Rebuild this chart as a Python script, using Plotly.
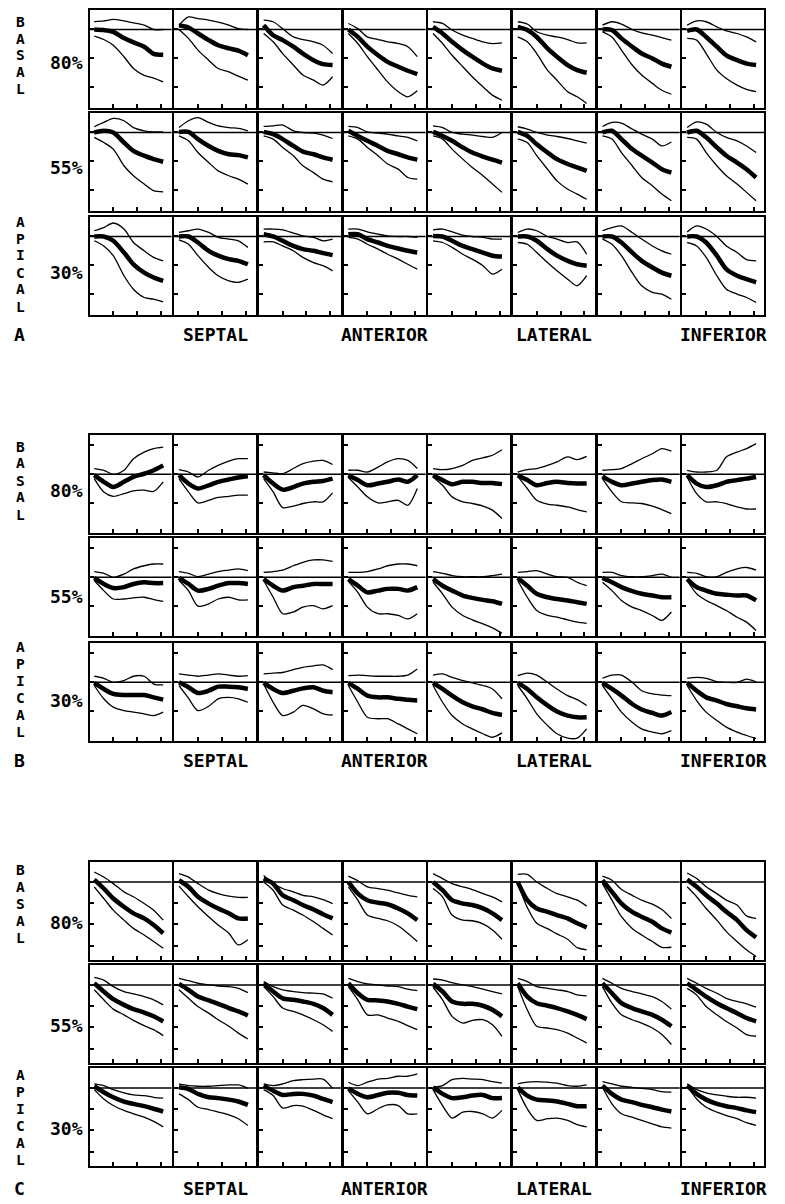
import plotly.graph_objects as go

# ---------------- data ----------------
TIME = [0.2, 0.6, 1.0, 1.45, 1.85, 2.3, 2.7, 3.1]
PANELS = ["A", "B", "C"]
LEVELS = ["80%", "55%", "30%"]
REGIONS = ["SEPTAL", "ANTERIOR", "LATERAL", "INFERIOR"]
BASE_WORD = "BASAL"
APEX_WORD = "APICAL"

A_UPPER = [
    [[0.27,0.30,0.35,0.30,0.23,0.15,0.0,0.0],[0.15,0.44,0.38,0.33,0.26,0.15,0.03,0.0],
     [0.33,0.27,0.03,-0.26,-0.35,-0.43,-0.55,-0.84],[0.21,0.03,-0.26,-0.35,-0.43,-0.49,-0.6,-0.95],
     [0.27,0.21,-0.02,-0.2,-0.31,-0.43,-0.49,-0.47],[0.27,0.19,-0.08,-0.2,-0.26,-0.35,-0.47,-0.47],
     [0.15,0.27,0.19,0.0,-0.12,-0.2,-0.28,-0.37],[0.15,0.3,0.27,0.09,-0.05,-0.14,-0.26,-0.43]],
    [[0.2,0.35,0.49,0.41,0.17,0.06,0.02,0.02],[0.17,0.41,0.52,0.35,0.23,0.17,0.14,0.06],
     [0.21,0.23,0.26,0.06,0.0,-0.02,-0.09,-0.21],[0.21,0.17,0.02,-0.02,-0.06,-0.12,-0.17,-0.29],
     [0.23,0.17,0.0,-0.06,-0.09,-0.14,-0.17,0.0],[0.2,0.12,0.0,-0.09,-0.14,-0.21,-0.29,-0.37],
     [0.21,0.35,0.33,0.12,-0.06,-0.23,-0.47,-0.33],[0.17,0.37,0.29,0.0,-0.17,-0.29,-0.47,-0.7]],
    [[0.2,0.31,0.47,0.26,-0.21,-0.5,-0.73,-0.85],[0.14,0.2,0.26,0.14,-0.03,-0.09,-0.15,-0.38],
     [0.26,0.26,0.23,0.12,0.02,-0.03,-0.15,-0.09],[0.26,0.26,0.16,0.08,0.02,0.0,0.0,-0.03],
     [0.23,0.26,0.16,0.05,0.0,-0.03,-0.09,-0.09],[0.14,0.26,0.2,0.0,-0.09,-0.21,-0.19,-0.62],
     [0.2,0.31,0.37,0.14,-0.09,-0.33,-0.5,-0.62],[0.16,0.37,0.26,0.0,-0.33,-0.56,-0.81,-0.85]],
]
A_MEAN = [
    [[0.0,-0.02,-0.08,-0.3,-0.45,-0.6,-0.85,-0.88],[0.15,0.07,-0.14,-0.37,-0.55,-0.66,-0.74,-0.9],
     [0.15,-0.2,-0.37,-0.6,-0.84,-1.07,-1.21,-1.24],[0.0,-0.26,-0.6,-0.9,-1.13,-1.3,-1.44,-1.56],
     [0.09,-0.14,-0.43,-0.72,-0.95,-1.19,-1.36,-1.44],[0.09,-0.02,-0.26,-0.66,-0.95,-1.24,-1.42,-1.51],
     [0.0,-0.02,-0.31,-0.6,-0.84,-1.01,-1.19,-1.3],[-0.05,0.0,-0.26,-0.6,-0.9,-1.07,-1.19,-1.24]],
    [[0.0,0.06,0.0,-0.35,-0.64,-0.81,-0.93,-1.02],[0.02,0.02,-0.23,-0.47,-0.64,-0.76,-0.79,-0.87],
     [0.02,-0.06,-0.23,-0.47,-0.67,-0.76,-0.87,-0.95],[0.06,-0.12,-0.29,-0.47,-0.64,-0.76,-0.87,-0.95],
     [0.02,-0.12,-0.29,-0.52,-0.7,-0.84,-0.95,-1.05],[0.02,-0.12,-0.41,-0.7,-0.93,-1.1,-1.22,-1.34],
     [0.0,0.06,-0.23,-0.58,-0.81,-1.05,-1.28,-1.4],[0.0,0.06,-0.17,-0.52,-0.81,-1.05,-1.28,-1.57]],
    [[0.0,0.0,-0.15,-0.56,-0.97,-1.26,-1.43,-1.55],[0.0,0.0,-0.21,-0.5,-0.67,-0.79,-0.85,-0.97],
     [0.08,0.0,-0.15,-0.33,-0.44,-0.5,-0.58,-0.65],[0.08,0.08,-0.09,-0.21,-0.33,-0.42,-0.5,-0.56],
     [0.02,0.0,-0.15,-0.33,-0.44,-0.56,-0.67,-0.7],[0.0,0.0,-0.15,-0.44,-0.67,-0.85,-0.97,-1.02],
     [0.0,0.0,-0.21,-0.56,-0.85,-1.08,-1.26,-1.37],[0.0,0.0,-0.21,-0.67,-1.14,-1.37,-1.49,-1.6]],
]
A_LOWER = [
    [[-0.23,-0.35,-0.55,-0.95,-1.36,-1.6,-1.7,-1.83],[0.0,-0.31,-0.72,-1.07,-1.36,-1.48,-1.63,-1.77],
     [-0.14,-0.43,-0.84,-1.24,-1.59,-1.77,-1.94,-1.65],[-0.14,-0.49,-0.95,-1.42,-1.83,-2.17,-2.35,-2.14],
     [-0.14,-0.49,-0.9,-1.3,-1.65,-2.0,-2.29,-2.47],[-0.26,-0.43,-0.84,-1.42,-1.77,-2.17,-2.35,-2.58],
     [-0.08,-0.26,-0.72,-1.24,-1.59,-1.88,-2.12,-2.26],[-0.31,-0.37,-0.84,-1.42,-1.71,-1.94,-2.09,-2.17]],
    [[-0.17,-0.35,-0.58,-1.16,-1.51,-1.8,-2.03,-2.07],[-0.12,-0.29,-0.7,-1.05,-1.34,-1.51,-1.63,-1.8],
     [-0.12,-0.23,-0.52,-0.81,-1.16,-1.4,-1.63,-1.72],[-0.12,-0.23,-0.52,-0.81,-1.1,-1.28,-1.57,-1.63],
     [-0.12,-0.23,-0.58,-0.93,-1.22,-1.51,-1.8,-2.09],[-0.23,-0.35,-0.81,-1.28,-1.69,-1.98,-2.15,-2.33],
     [-0.12,-0.23,-0.7,-1.16,-1.57,-1.86,-2.15,-2.38],[-0.17,-0.23,-0.7,-1.16,-1.51,-1.8,-2.09,-2.38]],
    [[-0.15,-0.33,-0.67,-1.37,-1.84,-2.13,-2.19,-2.28],[-0.12,-0.27,-0.67,-1.08,-1.37,-1.55,-1.6,-1.49],
     [-0.19,-0.19,-0.33,-0.5,-0.73,-0.91,-1.02,-1.2],[-0.03,-0.09,-0.27,-0.44,-0.62,-0.79,-0.97,-1.14],
     [-0.15,-0.21,-0.38,-0.62,-0.79,-1.02,-1.31,-1.14],[-0.21,-0.27,-0.56,-0.91,-1.2,-1.49,-1.72,-1.37],
     [-0.09,-0.27,-0.67,-1.26,-1.72,-1.95,-2.01,-2.19],[-0.21,-0.33,-0.73,-1.37,-1.84,-2.01,-2.13,-2.3]],
]

B_UPPER = [
    [[0.2,0.14,0.0,0.14,0.54,0.77,0.89,0.94],[0.16,0.08,-0.09,0.14,0.31,0.46,0.54,0.54],
     [0.08,0.05,0.02,0.2,0.37,0.46,0.48,0.34],[0.14,0.14,0.08,0.25,0.43,0.54,0.48,0.2],
     [0.2,0.16,0.2,0.31,0.48,0.57,0.66,0.85],[0.08,0.16,0.2,0.31,0.43,0.6,0.51,0.62],
     [0.14,0.16,0.2,0.37,0.54,0.71,0.89,0.8],[0.14,0.08,0.08,0.14,0.6,0.77,0.89,1.06]],
    [[0.2,0.14,0.0,0.11,0.29,0.4,0.46,0.46],[0.2,0.14,0.02,0.11,0.2,0.25,0.29,0.23],
     [0.17,0.2,0.25,0.4,0.52,0.6,0.6,0.55],[0.17,0.17,0.2,0.29,0.4,0.46,0.46,0.4],
     [0.2,0.14,0.06,0.02,0.02,0.02,0.06,0.11],[0.17,0.2,0.23,0.11,0.02,0.0,-0.17,-0.29],
     [0.17,0.17,0.06,0.02,0.02,0.06,0.11,0.0],[0.17,0.14,0.02,0.02,0.17,0.29,0.34,0.25]],
    [[0.21,0.14,0.0,0.06,0.21,0.21,-0.06,-0.09],[0.29,0.25,0.21,0.25,0.29,0.25,0.21,0.23],
     [0.29,0.32,0.34,0.44,0.52,0.57,0.6,0.44],[0.23,0.25,0.23,0.21,0.21,0.21,0.25,0.46],
     [0.25,0.29,0.17,0.06,-0.02,-0.11,-0.23,-0.57],[0.23,0.32,0.25,0.0,-0.23,-0.46,-0.6,-0.8],
     [0.14,0.25,0.25,0.0,-0.29,-0.4,-0.44,-0.46],[0.14,0.17,0.14,0.02,0.0,0.0,0.11,0.02]],
]
B_MEAN = [
    [[-0.03,-0.26,-0.44,-0.26,-0.09,0.02,0.14,0.31],[-0.03,-0.32,-0.49,-0.38,-0.26,-0.18,-0.11,-0.07],
     [-0.03,-0.32,-0.53,-0.44,-0.32,-0.26,-0.23,-0.15],[-0.03,-0.2,-0.38,-0.32,-0.26,-0.18,-0.26,-0.03],
     [-0.03,-0.2,-0.34,-0.26,-0.26,-0.3,-0.3,-0.34],[-0.03,-0.2,-0.38,-0.3,-0.26,-0.3,-0.32,-0.32],
     [-0.07,-0.26,-0.38,-0.32,-0.26,-0.2,-0.18,-0.26],[-0.03,-0.32,-0.44,-0.38,-0.26,-0.2,-0.15,-0.09]],
    [[-0.02,-0.23,-0.37,-0.34,-0.23,-0.17,-0.2,-0.2],[-0.02,-0.23,-0.46,-0.4,-0.29,-0.2,-0.2,-0.23],
     [-0.06,-0.29,-0.46,-0.34,-0.29,-0.23,-0.23,-0.23],[-0.06,-0.29,-0.52,-0.46,-0.4,-0.4,-0.46,-0.34],
     [-0.06,-0.29,-0.46,-0.63,-0.71,-0.78,-0.83,-0.92],[-0.02,-0.29,-0.57,-0.69,-0.75,-0.8,-0.86,-0.92],
     [-0.02,-0.17,-0.34,-0.48,-0.57,-0.63,-0.69,-0.69],[-0.06,-0.34,-0.46,-0.57,-0.6,-0.63,-0.63,-0.8]],
    [[-0.02,-0.23,-0.4,-0.44,-0.44,-0.44,-0.52,-0.6],[0.0,-0.17,-0.37,-0.29,-0.15,-0.15,-0.17,-0.23],
     [-0.02,-0.23,-0.37,-0.29,-0.21,-0.17,-0.29,-0.34],[-0.02,-0.23,-0.46,-0.52,-0.52,-0.57,-0.6,-0.63],
     [-0.02,-0.23,-0.46,-0.69,-0.83,-0.94,-1.06,-1.13],[-0.02,-0.23,-0.52,-0.8,-1.01,-1.15,-1.21,-1.21],
     [-0.02,-0.23,-0.46,-0.75,-0.94,-1.06,-1.15,-1.03],[-0.02,-0.29,-0.52,-0.63,-0.75,-0.83,-0.9,-0.94]],
]
B_LOWER = [
    [[-0.15,-0.61,-0.76,-0.67,-0.57,-0.55,-0.59,-0.26],[-0.15,-0.61,-0.99,-0.9,-0.8,-0.76,-0.72,-0.72],
     [-0.15,-0.61,-1.15,-1.1,-1.01,-0.95,-0.95,-0.64],[-0.11,-0.44,-0.78,-0.99,-0.95,-0.9,-1.07,-0.49],
     [-0.09,-0.38,-0.78,-0.95,-1.01,-1.1,-1.24,-1.53],[-0.07,-0.49,-0.9,-1.03,-1.07,-1.13,-1.22,-1.3],
     [-0.15,-0.61,-0.95,-0.99,-1.01,-1.1,-1.22,-1.36],[-0.09,-0.67,-0.95,-0.95,-1.01,-1.13,-1.2,-1.2]],
    [[-0.11,-0.46,-0.75,-0.75,-0.71,-0.69,-0.77,-0.83],[-0.11,-0.46,-1.0,-0.92,-0.75,-0.69,-0.78,-0.78],
     [-0.11,-0.69,-1.26,-1.2,-1.03,-0.98,-1.09,-0.98],[-0.14,-0.52,-1.03,-1.26,-1.26,-1.32,-1.44,-1.26],
     [-0.17,-0.57,-1.03,-1.32,-1.47,-1.61,-1.75,-1.93],[-0.11,-0.69,-1.15,-1.32,-1.38,-1.47,-1.55,-1.59],
     [-0.17,-0.46,-0.8,-1.03,-1.15,-1.32,-1.49,-1.2],[-0.11,-0.57,-0.8,-0.98,-1.15,-1.38,-1.55,-1.84]],
    [[-0.11,-0.57,-0.86,-0.98,-1.03,-1.09,-1.15,-1.03],[-0.11,-0.55,-0.98,-0.83,-0.57,-0.52,-0.57,-0.69],
     [-0.06,-0.69,-1.15,-1.03,-0.8,-0.92,-1.09,-1.13],[-0.11,-0.69,-1.21,-1.26,-1.26,-1.44,-1.61,-1.78],
     [-0.11,-0.69,-1.15,-1.44,-1.61,-1.78,-1.9,-1.75],[-0.11,-0.57,-1.09,-1.49,-1.78,-1.93,-1.93,-1.61],
     [-0.11,-0.57,-1.03,-1.38,-1.61,-1.72,-1.78,-1.67],[-0.11,-0.63,-1.03,-1.32,-1.55,-1.72,-1.84,-1.95]],
]

C_UPPER = [
    [[0.47,0.23,-0.08,-0.47,-0.7,-1.02,-1.33,-1.8],[0.39,0.23,-0.08,-0.39,-0.55,-0.67,-0.73,-0.73],
     [0.31,-0.08,-0.31,-0.47,-0.63,-0.7,-0.83,-1.02],[0.27,0.05,-0.23,-0.31,-0.39,-0.52,-0.63,-0.7],
     [0.39,0.16,-0.08,-0.23,-0.36,-0.55,-0.7,-0.94],[0.36,0.36,0.0,-0.31,-0.55,-0.7,-0.86,-1.14],
     [0.27,0.08,-0.36,-0.63,-0.86,-1.05,-1.3,-1.72],[0.42,0.16,-0.23,-0.55,-0.86,-1.09,-1.6,-1.72]],
    [[0.36,0.23,-0.08,-0.31,-0.42,-0.55,-0.7,-0.94],[0.31,0.2,0.08,0.0,-0.05,-0.08,-0.16,-0.36],
     [0.16,-0.08,-0.23,-0.31,-0.36,-0.39,-0.42,-0.63],[0.31,0.16,0.05,0.0,-0.05,-0.08,-0.2,-0.27],
     [0.28,0.23,0.11,0.0,-0.08,-0.2,-0.31,-0.42],[0.31,0.16,-0.08,-0.16,-0.23,-0.31,-0.47,-0.52],
     [0.31,0.08,-0.16,-0.31,-0.42,-0.55,-0.78,-1.14],[0.31,0.08,-0.16,-0.39,-0.63,-0.78,-0.89,-1.05]],
    [[0.19,0.11,-0.08,-0.23,-0.33,-0.36,-0.44,-0.48],[0.19,0.11,0.08,0.08,0.11,0.14,0.14,-0.02],
     [0.19,0.11,0.19,0.34,0.39,0.42,0.42,-0.02],[0.27,0.11,0.27,0.42,0.45,0.55,0.55,0.66],
     [0.03,0.11,0.39,0.45,0.42,0.39,0.3,0.23],[0.19,0.27,0.3,0.27,0.23,0.11,0.08,0.14],
     [0.3,0.19,0.08,0.03,-0.02,-0.08,-0.17,-0.2],[0.19,-0.08,-0.23,-0.33,-0.39,-0.44,-0.44,-0.48]],
]
C_MEAN = [
    [[0.11,-0.31,-0.78,-1.17,-1.48,-1.72,-2.03,-2.42],[0.08,-0.23,-0.7,-1.02,-1.25,-1.48,-1.72,-1.72],
     [0.16,-0.08,-0.63,-0.86,-1.09,-1.3,-1.52,-1.72],[0.0,-0.55,-0.86,-0.98,-1.05,-1.25,-1.48,-1.8],
     [0.0,-0.39,-0.86,-1.02,-1.09,-1.25,-1.48,-1.8],[0.0,-0.86,-1.25,-1.41,-1.56,-1.72,-1.95,-2.14],
     [0.08,-0.47,-1.02,-1.41,-1.64,-1.88,-2.19,-2.39],[0.11,-0.23,-0.63,-1.02,-1.41,-1.8,-2.27,-2.61]],
    [[0.08,-0.31,-0.67,-0.94,-1.14,-1.3,-1.48,-1.72],[0.05,-0.23,-0.55,-0.73,-0.89,-1.09,-1.25,-1.44],
     [0.08,-0.31,-0.63,-0.7,-0.78,-0.89,-1.09,-1.41],[0.08,-0.39,-0.7,-0.73,-0.78,-0.89,-1.02,-1.14],
     [0.05,-0.31,-0.78,-0.89,-0.89,-0.98,-1.17,-1.48],[0.08,-0.55,-0.86,-0.98,-1.09,-1.25,-1.41,-1.61],
     [0.08,-0.39,-0.86,-1.09,-1.25,-1.41,-1.64,-1.95],[0.08,-0.23,-0.55,-0.86,-1.09,-1.33,-1.56,-1.72]],
    [[0.08,-0.2,-0.44,-0.64,-0.75,-0.86,-0.98,-1.11],[0.03,-0.05,-0.28,-0.44,-0.48,-0.55,-0.64,-0.8],
     [0.11,-0.13,-0.33,-0.28,-0.28,-0.36,-0.52,-0.67],[-0.02,-0.28,-0.44,-0.33,-0.23,-0.23,-0.33,-0.36],
     [0.03,-0.28,-0.48,-0.44,-0.36,-0.33,-0.48,-0.48],[0.03,-0.36,-0.55,-0.59,-0.64,-0.75,-0.86,-0.86],
     [0.11,-0.28,-0.55,-0.67,-0.8,-0.91,-1.02,-1.11],[0.11,-0.28,-0.55,-0.75,-0.86,-0.95,-1.06,-1.14]],
]
C_LOWER = [
    [[-0.23,-0.78,-1.33,-1.8,-2.19,-2.5,-2.81,-3.13],[-0.2,-0.7,-1.17,-1.64,-2.03,-2.42,-2.97,-2.73],
     [0.0,-0.39,-1.09,-1.33,-1.56,-1.88,-2.19,-2.5],[-0.23,-0.86,-1.56,-1.72,-1.83,-2.08,-2.42,-2.81],
     [-0.31,-0.7,-1.56,-1.8,-1.83,-1.98,-2.27,-2.7],[-0.08,-1.2,-1.95,-2.2,-2.45,-2.7,-3.1,-3.2],
     [-0.08,-0.86,-1.64,-2.19,-2.5,-2.81,-3.08,-3.08],[-0.23,-0.7,-1.25,-1.8,-2.34,-2.81,-3.2,-3.52]],
    [[-0.23,-0.7,-1.14,-1.41,-1.67,-1.92,-2.11,-2.39],[-0.23,-0.63,-1.02,-1.33,-1.64,-1.95,-2.27,-2.55],
     [-0.08,-0.55,-1.09,-1.25,-1.41,-1.64,-1.88,-2.19],[-0.08,-0.7,-1.41,-1.41,-1.56,-1.72,-1.92,-2.11],
     [-0.11,-0.7,-1.48,-1.8,-1.67,-1.64,-1.88,-2.42],[-0.08,-1.17,-1.95,-2.03,-2.11,-2.27,-2.5,-2.73],
     [-0.08,-0.86,-1.41,-1.64,-1.8,-2.03,-2.34,-2.81],[-0.16,-0.47,-1.02,-1.41,-1.72,-2.03,-2.34,-2.42]],
    [[-0.08,-0.52,-0.83,-1.06,-1.22,-1.38,-1.58,-1.84],[-0.28,-0.55,-0.91,-1.02,-1.14,-1.27,-1.45,-1.77],
     [-0.08,-0.36,-0.95,-0.83,-0.86,-1.06,-1.27,-1.45],[-0.13,-0.67,-1.22,-0.98,-0.8,-0.83,-1.22,-1.22],
     [-0.08,-0.83,-1.42,-1.14,-1.11,-1.22,-1.42,-1.06],[-0.08,-0.98,-1.53,-1.45,-1.42,-1.53,-1.73,-1.84],
     [0.03,-0.75,-1.22,-1.38,-1.53,-1.69,-1.84,-1.89],[0.08,-0.52,-0.91,-1.14,-1.3,-1.45,-1.64,-1.77]],
]

# ---------------- layout geometry ----------------
W, H = 785, 1204
COL_LEFT0, COL_PITCH, CELL_W, CELL_H = 89.5, 84.7, 82.0, 98.0
ROW_TOPS = {"A": [10, 113, 217], "B": [435, 538, 643], "C": [862, 965, 1068]}
Y_RANGE = {"A": [-2.74, 0.68], "B": [-2.03, 1.36], "C": [-3.68, 0.94]}
Y_TICKS = {"A": [-2, -1, 0], "B": [-2, -1, 0, 1], "C": [-3, -2, -1, 0]}
X_RANGE = [0, 3.45]
X_TICKS = [1, 2, 3]
SERIES = {"A": (A_UPPER, A_MEAN, A_LOWER), "B": (B_UPPER, B_MEAN, B_LOWER),
          "C": (C_UPPER, C_MEAN, C_LOWER)}
LEVEL_Y = {"A": [63, 167, 273], "B": [490, 596, 700], "C": [922, 1025, 1128]}
BASE_FIRST = {"A": 21.5, "B": 446.5, "C": 869.5}
APEX_FIRST = {"A": 221.5, "B": 647, "C": 1075}
LETTER_PITCH = 17.0
FOOT_Y = {"A": 334, "B": 760, "C": 1188}

FONT = dict(family="DejaVu Sans Mono", size=18, color="black", weight="bold")
VFONT = dict(family="DejaVu Sans Mono", size=14.5, color="black", weight="bold")

fig = go.Figure()
layout = dict(width=W, height=H, margin=dict(l=0, r=0, t=0, b=0),
              paper_bgcolor="white", plot_bgcolor="white", showlegend=False)
shapes, annotations = [], []


def px_x(x):
    return x / W


def px_y(y):
    return 1 - y / H


def label(text, x, y, font, pad=1):
    annotations.append(dict(text=text, x=px_x(x), y=px_y(y), xref="paper", yref="paper",
                            showarrow=False, xanchor="center", yanchor="middle",
                            font=font, borderpad=pad))


n = 0
for p in PANELS:
    upper, mean, lower = SERIES[p]
    for r in range(3):
        top = ROW_TOPS[p][r]
        for c in range(8):
            n += 1
            xa = "x" if n == 1 else f"x{n}"
            ya = "y" if n == 1 else f"y{n}"
            left = COL_LEFT0 + c * COL_PITCH
            common = dict(showline=True, mirror=True, linecolor="black", linewidth=2,
                          ticks="inside", ticklen=4, tickwidth=2, tickcolor="black",
                          showticklabels=False, showgrid=False, zeroline=False, fixedrange=True)
            layout["xaxis" if n == 1 else f"xaxis{n}"] = dict(
                domain=[px_x(left), px_x(left + CELL_W)], range=X_RANGE, tickvals=X_TICKS,
                anchor=ya, **common)
            layout["yaxis" if n == 1 else f"yaxis{n}"] = dict(
                domain=[px_y(top + CELL_H), px_y(top)], range=Y_RANGE[p], tickvals=Y_TICKS[p],
                anchor=xa, **common)
            for vals, w in ((upper[r][c], 1.3), (lower[r][c], 1.3), (mean[r][c], 4.5)):
                fig.add_trace(go.Scatter(
                    x=TIME, y=vals, mode="lines", xaxis=xa, yaxis=ya,
                    line=dict(color="black", width=w, shape="spline", smoothing=0.8),
                    hoverinfo="skip", showlegend=False))
            shapes.append(dict(type="line", xref=f"{xa} domain", yref=ya, x0=0, x1=1,
                               y0=0, y1=0, line=dict(color="black", width=1.4)))

    for r, lab in enumerate(LEVELS):
        label(lab, 66, LEVEL_Y[p][r], FONT)
    for i, ch in enumerate(BASE_WORD):
        label(ch, 20, BASE_FIRST[p] + i * LETTER_PITCH, VFONT, pad=0)
    for i, ch in enumerate(APEX_WORD):
        label(ch, 20, APEX_FIRST[p] + i * LETTER_PITCH, VFONT, pad=0)
    label(p, 19, FOOT_Y[p], FONT)
    for k, reg in enumerate(REGIONS):
        c = 2 * k + 1
        label(reg, COL_LEFT0 + c * COL_PITCH + CELL_W / 2, FOOT_Y[p], FONT)

layout["shapes"] = shapes
layout["annotations"] = annotations
fig.update_layout(**layout)
fig.write_html("out.html", config={"displayModeBar": False},
               post_script="document.body.style.margin='0';")
